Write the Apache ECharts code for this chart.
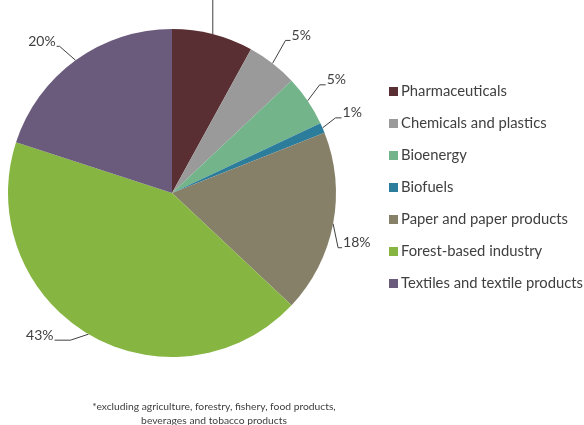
<!DOCTYPE html>
<html>
<head>
<meta charset="utf-8">
<script src="https://cdn.jsdelivr.net/npm/echarts@6/dist/echarts.min.js"></script>
<style>
  html, body { margin: 0; padding: 0; background: #ffffff; }
  #chart { width: 584px; height: 425px; }
</style>
</head>
<body>
<div id="chart"></div>
<script>
// Sectors and their shares (%)
var categories = [
  'Pharmaceuticals',
  'Chemicals and plastics',
  'Bioenergy',
  'Biofuels',
  'Paper and paper products',
  'Forest-based industry',
  'Textiles and textile products'
];
var shares = [8, 5, 5, 1, 18, 43, 20];
var colors = ['#5a2f33', '#9a9a9a', '#73b48b', '#2b7d9b', '#878069', '#86b641', '#6a5b7d'];

var footnote = '*excluding agriculture, forestry, fishery, food products,\nbeverages and tobacco products';

// Leader-line styling per sector: bend point relative to the sector's edge point,
// then a short horizontal tail (negative = towards the left)
var leaderBend = [null, [13, -23], [12, -16], [13, -10], [5, 24], [-18, 6], [-16, -14]];
var leaderTail = [0, 5, 6, 6, 4, -16, -3];

var FONT = 'Lato';

var chart = echarts.init(document.getElementById('chart'), null, { renderer: 'canvas' });

var data = categories.map(function (name, i) {
  return { name: name, value: shares[i], itemStyle: { color: colors[i] } };
});

chart.setOption({
  animation: false,
  backgroundColor: '#ffffff',
  legend: {
    orient: 'vertical',
    left: 384,
    top: 79,
    itemWidth: 9,
    itemHeight: 9,
    itemGap: 17,
    icon: 'rect',
    data: categories,
    textStyle: { fontFamily: FONT, fontSize: 14.8, color: '#404040', padding: [0, 0, 0, -2] }
  },
  graphic: [{
    type: 'text',
    x: 214,
    y: 400,
    style: {
      text: footnote,
      fontFamily: FONT,
      fontSize: 10.3,
      lineHeight: 14,
      fill: '#404040',
      align: 'center'
    }
  }],
  series: [{
    type: 'pie',
    center: [172, 193],
    radius: [0, 164],
    startAngle: 90,
    clockwise: true,
    data: data,
    label: {
      show: true,
      position: 'outside',
      formatter: '{d}%',
      fontFamily: FONT,
      fontSize: 14,
      color: '#404040'
    },
    labelLine: {
      show: true,
      length: 22,
      length2: 5,
      lineStyle: { color: '#404040', width: 1 }
    },
    labelLayout: function (params) {
      var i = params.dataIndex;
      var p0 = params.labelLinePoints[0];
      if (i === 0) {
        // this label runs straight up out of view
        return {
          x: p0[0],
          y: -30,
          align: 'center',
          labelLinePoints: [[p0[0], p0[1]], [p0[0], -10], [p0[0], -10]]
        };
      }
      var b = leaderBend[i];
      var bx = p0[0] + b[0], by = p0[1] + b[1];
      var tx = bx + leaderTail[i];
      var right = leaderTail[i] >= 0;
      return {
        x: right ? tx + 1 : tx - 1,
        y: by - 5,
        align: right ? 'left' : 'right',
        verticalAlign: 'middle',
        labelLinePoints: [[p0[0], p0[1]], [bx, by], [tx, by]]
      };
    },
    emphasis: { disabled: true }
  }]
});
</script>
</body>
</html>
